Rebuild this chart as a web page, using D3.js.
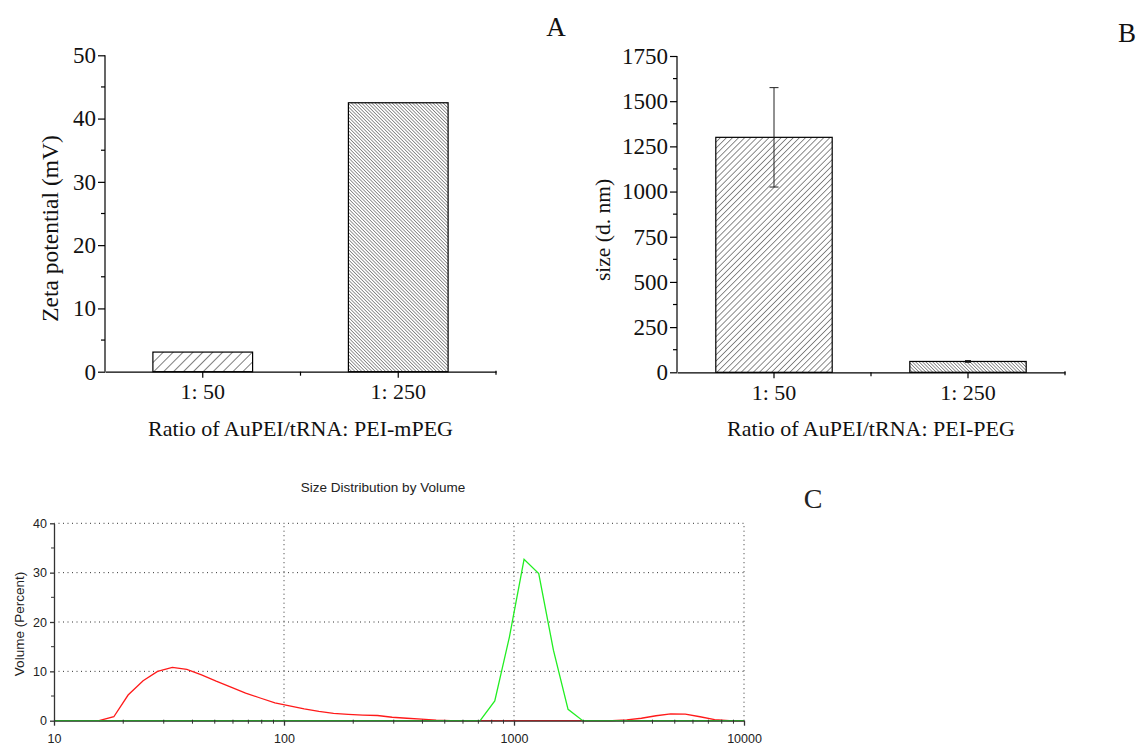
<!DOCTYPE html>
<html>
<head>
<meta charset="utf-8">
<script src="https://cdn.jsdelivr.net/npm/d3@7"></script>
<style>
  html, body { margin: 0; padding: 0; background: #fff; }
  svg { display: block; }
</style>
</head>
<body>
<svg id="chart" width="1143" height="746"></svg>
<script>
// ---------- DATA ----------
const ratiosA = ["1: 50", "1: 250"];
const zetaValues = [3.1, 42.5];
const zetaTicks = [0, 10, 20, 30, 40, 50];

const ratiosB = ["1: 50", "1: 250"];
const sizeValues = [1300, 60];
const sizeErrors = [275, 5];
const sizeTicks = [0, 250, 500, 750, 1000, 1250, 1500, 1750];

const distSizes  = [10, 11.7, 13.5, 15.7, 18.2, 21.0, 24.4, 28.2, 32.7, 37.8, 43.8, 50.7, 58.8, 68.1, 78.8, 91.3, 105.7, 122.4, 141.8, 164.2, 190.1, 220.2, 255.0, 295.3, 342.0, 396.1, 458.7, 531.2, 615.1, 712.4, 825.0, 955.4, 1106, 1281, 1484, 1718, 1990, 2305, 2669, 3091, 3580, 4145, 4801, 5560, 6439, 7456, 8635, 10000];
const redVolume  = [null, null, null, 0, 0.8, 5.2, 8.1, 10.0, 10.8, 10.4, 9.3, 8.0, 6.8, 5.6, 4.6, 3.6, 3.0, 2.4, 1.9, 1.5, 1.3, 1.15, 1.05, 0.7, 0.5, 0.3, 0.1, 0, 0, 0, 0, 0, 0, 0, 0, 0, 0, 0, 0, 0.15, 0.5, 1.0, 1.4, 1.35, 0.8, 0.2, 0, 0];
const greenVolume = [0, 0, 0, 0, 0, 0, 0, 0, 0, 0, 0, 0, 0, 0, 0, 0, 0, 0, 0, 0, 0, 0, 0, 0, 0, 0, 0, 0, 0, 0, 4.0, 17.0, 32.7, 29.8, 14.3, 2.3, 0, 0, 0, 0, 0, 0, 0, 0, 0, 0, 0, 0];
const distXTicks = [10, 100, 1000, 10000];
const distYTicks = [0, 10, 20, 30, 40];

// ---------- SETUP ----------
const svg = d3.select("#chart");
const serif = "'Liberation Serif', 'Times New Roman', serif";
const sans = "'Liberation Sans', Arial, sans-serif";

const defs = svg.append("defs");
function hatch(id, spacing, angle, sw) {
  const p = defs.append("pattern")
    .attr("id", id)
    .attr("patternUnits", "userSpaceOnUse")
    .attr("width", spacing).attr("height", spacing)
    .attr("patternTransform", `rotate(${angle})`);
  p.append("rect").attr("width", spacing).attr("height", spacing).attr("fill", "#fff");
  p.append("line").attr("x1", 0).attr("y1", 0).attr("x2", 0).attr("y2", spacing)
    .attr("stroke", "#000").attr("stroke-width", sw);
}
hatch("hA1", 7, 45, 1);
hatch("hA2", 2.4, -45, 0.8);
hatch("hB1", 4.3, 45, 0.9);
hatch("hB2", 2.4, -45, 0.8);

// ---------- BAR PANEL FUNCTION ----------
function barPanel(opts) {
  const g = svg.append("g");
  const x = d3.scaleBand().domain(opts.cats).range(opts.xr)
    .paddingInner(opts.pi).paddingOuter(opts.po);
  const y = d3.scaleLinear().domain(opts.yd).range(opts.yr);

  // bars
  g.selectAll("rect.bar").data(opts.values).enter().append("rect")
    .attr("x", (d, i) => x(opts.cats[i]))
    .attr("y", d => y(d))
    .attr("width", x.bandwidth())
    .attr("height", d => y(0) - y(d))
    .attr("fill", (d, i) => `url(#${opts.patterns[i]})`)
    .attr("stroke", "#000").attr("stroke-width", 1.2);

  // error bars
  if (opts.errors) {
    opts.values.forEach((v, i) => {
      const cx = x(opts.cats[i]) + x.bandwidth() / 2;
      const e = opts.errors[i];
      const eg = g.append("g").attr("stroke", "#222").attr("stroke-width", 1);
      eg.append("line").attr("x1", cx).attr("x2", cx).attr("y1", y(v + e)).attr("y2", y(v - e));
      const cw = e > 20 ? 4.5 : 3;
      eg.append("line").attr("x1", cx - cw).attr("x2", cx + cw).attr("y1", y(v + e)).attr("y2", y(v + e));
      eg.append("line").attr("x1", cx - cw).attr("x2", cx + cw).attr("y1", y(v - e)).attr("y2", y(v - e));
    });
  }

  // y axis
  const yAxis = d3.axisLeft(y).tickValues(opts.yticks).tickSize(7).tickPadding(2).tickFormat(d3.format("d"));
  const ya = g.append("g").attr("transform", `translate(${opts.xr[0]},0)`).call(yAxis);
  const minor = [];
  for (let i = 0; i < opts.yticks.length - 1; i++) minor.push((opts.yticks[i] + opts.yticks[i + 1]) / 2);
  g.selectAll("line.minor").data(minor).enter().append("line")
    .attr("x1", opts.xr[0] - 4).attr("x2", opts.xr[0])
    .attr("y1", d => y(d)).attr("y2", d => y(d))
    .attr("stroke", "#000").attr("stroke-width", 1.2);

  // x axis
  const xAxis = d3.axisBottom(x).tickSize(6).tickPadding(6).tickSizeOuter(0);
  const xa = g.append("g").attr("transform", `translate(0,${y(0)})`).call(xAxis);
  const mid = (x(opts.cats[0]) + x(opts.cats[1]) + x.bandwidth()) / 2;
  g.append("line").attr("x1", mid).attr("x2", mid).attr("y1", y(0)).attr("y2", y(0) + 4)
    .attr("stroke", "#000").attr("stroke-width", 1.2);
  g.append("line").attr("x1", opts.xr[1]).attr("x2", opts.xr[1]).attr("y1", y(0) - 1).attr("y2", y(0) + 3)
    .attr("stroke", "#000").attr("stroke-width", 1.2);

  [ya, xa].forEach(a => {
    a.selectAll("path, line").attr("stroke", "#000").attr("stroke-width", 1.2);
    a.selectAll("text").attr("font-family", serif).attr("fill", "#111");
  });
  ya.selectAll("text").attr("font-size", 23);
  xa.selectAll("text").attr("font-size", 22);
  ya.select("path.domain").attr("d", `M0,${opts.yr[0]}V${opts.yr[1]}`);

  // axis titles
  g.append("text")
    .attr("transform", `translate(${opts.ylabX},${opts.ylabY}) rotate(-90)`)
    .attr("text-anchor", "middle").attr("font-family", serif).attr("font-size", opts.ylabSize).attr("fill", "#111")
    .text(opts.ylabel);
  g.append("text")
    .attr("x", (opts.xr[0] + opts.xr[1]) / 2).attr("y", 435.5)
    .attr("text-anchor", "middle").attr("font-family", serif).attr("font-size", 22).attr("fill", "#111")
    .text(opts.xlabel);
}

barPanel({
  cats: ratiosA, values: zetaValues, patterns: ["hA1", "hA2"],
  xr: [105, 496], pi: 0.49, po: 0.245,
  yd: [0, 50], yr: [371.7, 55.3], yticks: zetaTicks,
  ylabel: "Zeta potential (mV)", ylabX: 57.5, ylabY: 228.5, ylabSize: 23.5,
  xlabel: "Ratio of AuPEI/tRNA: PEI-mPEG"
});

barPanel({
  cats: ratiosB, values: sizeValues, errors: sizeErrors, patterns: ["hB1", "hB2"],
  xr: [677, 1065], pi: 0.4, po: 0.2,
  yd: [0, 1750], yr: [372.3, 56], yticks: sizeTicks,
  ylabel: "size (d. nm)", ylabX: 610, ylabY: 230, ylabSize: 21.5,
  xlabel: "Ratio of AuPEI/tRNA: PEI-PEG"
});

// panel letters
svg.append("text").attr("x", 556).attr("y", 36).attr("text-anchor", "middle")
  .attr("font-family", serif).attr("font-size", 27).attr("fill", "#111").text("A");
svg.append("text").attr("x", 1127).attr("y", 42).attr("text-anchor", "middle")
  .attr("font-family", serif).attr("font-size", 27).attr("fill", "#111").text("B");
svg.append("text").attr("x", 813).attr("y", 508).attr("text-anchor", "middle")
  .attr("font-family", serif).attr("font-size", 28).attr("fill", "#222").text("C");

// ---------- PANEL C ----------
const gc = svg.append("g");
const xc = d3.scaleLog().domain([10, 10000]).range([54, 744]);
const yc = d3.scaleLinear().domain([0, 40]).range([720.7, 523.3]);
const axisColor = "#333";

gc.selectAll("line.hg").data(distYTicks.filter(d => d > 0)).enter().append("line")
  .attr("x1", xc(10)).attr("x2", xc(10000)).attr("y1", d => yc(d)).attr("y2", d => yc(d))
  .attr("stroke", "#333").attr("stroke-width", 1).attr("stroke-dasharray", "1,3.5");
gc.selectAll("line.vg").data(distXTicks.filter(d => d > 10)).enter().append("line")
  .attr("x1", d => xc(d)).attr("x2", d => xc(d)).attr("y1", yc(0)).attr("y2", yc(40))
  .attr("stroke", "#333").attr("stroke-width", 1).attr("stroke-dasharray", "1,3.5");

const line = d3.line().defined(d => d[1] !== null).x(d => xc(d[0])).y(d => yc(d[1]));
gc.append("path").datum(distSizes.map((s, i) => [s, redVolume[i]]))
  .attr("d", line).attr("fill", "none").attr("stroke", "#ff1a1a").attr("stroke-width", 1.3);
gc.append("path").datum(distSizes.map((s, i) => [s, greenVolume[i]]))
  .attr("d", line).attr("fill", "none").attr("stroke", "#22ee22").attr("stroke-width", 1.3);

const minorX = [];
[10, 100, 1000].forEach(b => { for (let k = 2; k <= 9; k++) minorX.push(b * k); });
const xcAxis = d3.axisBottom(xc).tickValues(distXTicks).tickFormat(d3.format("d")).tickSize(5).tickPadding(8).tickSizeOuter(0);
const xca = gc.append("g").attr("transform", `translate(0,${yc(0)})`).call(xcAxis);
gc.selectAll("line.mx").data(minorX).enter().append("line")
  .attr("x1", d => xc(d)).attr("x2", d => xc(d)).attr("y1", yc(0) - 1).attr("y2", yc(0) + 3)
  .attr("stroke", axisColor).attr("stroke-width", 1);

const ycAxis = d3.axisLeft(yc).tickValues(distYTicks).tickSize(4).tickPadding(3).tickSizeOuter(0);
const yca = gc.append("g").attr("transform", `translate(${xc(10)},0)`).call(ycAxis);
gc.selectAll("line.my").data([5, 15, 25, 35]).enter().append("line")
  .attr("x1", xc(10) - 3).attr("x2", xc(10)).attr("y1", d => yc(d)).attr("y2", d => yc(d))
  .attr("stroke", axisColor).attr("stroke-width", 1);

[xca, yca].forEach(a => {
  a.selectAll("path, line").attr("stroke", axisColor).attr("stroke-width", 1.3);
  a.selectAll("text").attr("font-family", sans).attr("font-size", 12.5).attr("fill", "#222");
});

gc.append("text")
  .attr("transform", `translate(24,${(yc(0) + yc(40)) / 2 + 2}) rotate(-90)`)
  .attr("text-anchor", "middle").attr("font-family", sans).attr("font-size", 13.5).attr("fill", "#222")
  .text("Volume (Percent)");
gc.append("text").attr("x", 383).attr("y", 492).attr("text-anchor", "middle")
  .attr("font-family", sans).attr("font-size", 13.5).attr("fill", "#222")
  .text("Size Distribution by Volume");
</script>
</body>
</html>
